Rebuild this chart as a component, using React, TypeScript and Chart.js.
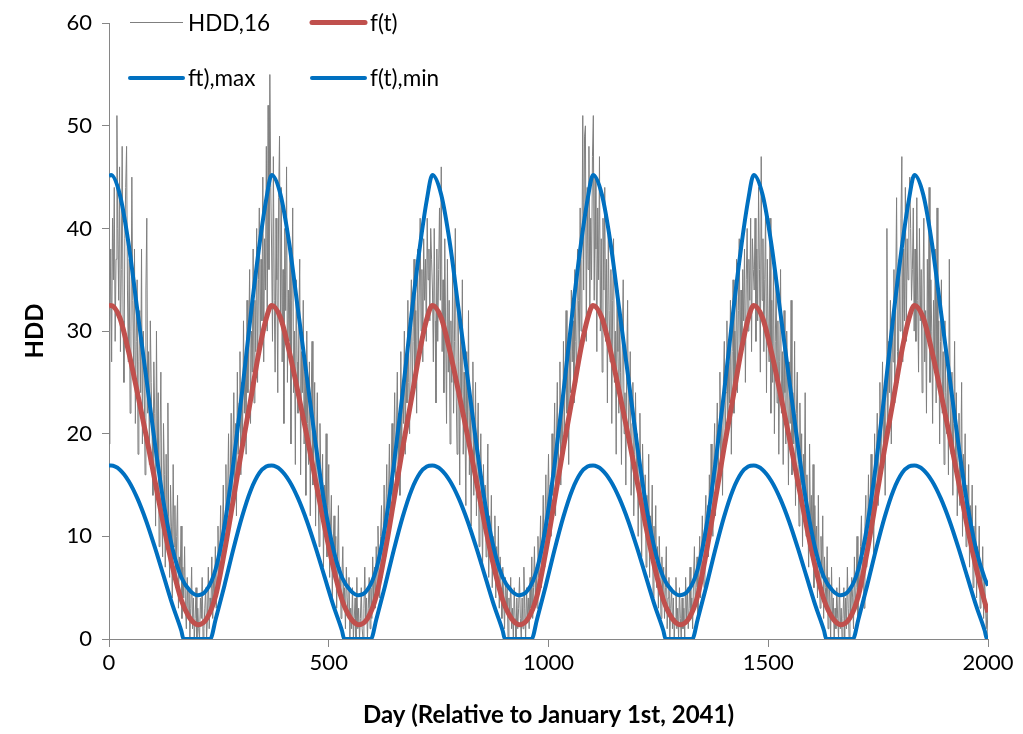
import React, { useEffect, useRef } from "react";
import { Chart, registerables } from "chart.js";

Chart.register(...registerables);

// ---------- data ----------
const xTickValues = [0, 500, 1000, 1500, 2000];
const yTickValues = [0, 10, 20, 30, 40, 50, 60];

const seriesLabels = ["HDD,16", "f(t)", "ft),max", "f(t),min"];

// daily HDD, read every 2 days
const hddStepDays = 2;
const hddSeg1 = [
  19,30,38,27,41,35,44,29,37,51, 40,33,46,28,36,48,31,25,39,44, 48,34,27,37,22,30,45,33,26,38,
  21,29,35,18,27,32,24,38,19,30, 26,16,34,41,22,28,17,31,25,20, 14,27,22,11,30,18,24,9,19,26,
  13,8,21,16,7,18,12,23,10,6, 15,11,4,17,9,13,5,10,14,3, 8,6,11,2,7,4,9,3,1,6,
  2,5,0,3,7,1,4,0,2,5, 0,3,1,0,4,2,6,0,1,3, 5,0,2,7,1,4,3,8,2,6,
  4,9,3,7,11,5,8,13,6,10, 15,8,12,17,9,14,20,11,16,22, 13,19,24,15,21,12,26,18,23,28,
  16,25,20,31,22,27,18,33,24,29, 36,21,30,26,38,23,33,28,40,25, 35,42,29,37,31,45,27,39,34,48,
  30,52,36,55,44,
];
const hddSeg2 = [
  38,29,47,33,26,41,35,24,43,49, 31,44,27,36,21,40,32,46,25,34, 29,38,19,33,42,24,30,17,35,27,
  22,31,37,16,28,24,33,19,26,14, 30,21,17,27,12,23,29,15,20,25, 11,19,24,14,9,21,16,12,18,7,
  15,10,20,8,13,17,6,11,14,4, 9,12,6,10,3,8,13,5,7,2, 6,9,3,5,1,7,4,2,6,0,
  3,1,5,0,2,4,0,6,1,3, 0,2,5,1,0,3,7,2,4,0, 3,6,1,5,2,8,4,7,3,9,
  5,11,7,4,10,13,6,9,15,8, 12,17,10,14,19,11,16,21,13,18, 24,15,20,26,17,22,14,28,19,25,
  21,30,18,27,23,33,25,20,31,35, 24,29,37,26,32,22,38,28,34,41, 30,36,27,39,33,37,29,41,35,38,
  31,40,37,
];
const hddSeg3 = [
  34,27,40,31,23,38,29,36,42,33, 46,28,35,24,39,30,21,37,26,33, 19,31,25,36,22,29,40,24,18,32,
  27,15,30,23,35,18,26,21,13,28, 20,32,16,24,11,22,27,14,19,25, 12,18,23,9,16,20,13,7,17,11,
  15,8,13,19,6,12,9,14,5,10, 7,12,4,9,6,11,3,8,5,2, 7,4,1,6,3,5,0,4,2,6,
  1,3,0,5,2,0,4,1,3,6, 2,0,4,1,7,3,0,5,2,4, 1,6,3,8,2,5,9,4,7,3,
  10,6,8,12,5,9,14,7,11,16, 9,13,18,11,15,10,20,14,17,23, 12,19,25,16,21,27,15,23,18,29,
  20,26,32,22,28,17,30,24,34,27, 31,23,36,29,25,38,33,27,42,30, 37,51,34,49,50,29,44,36,48,32,
  41,35,47,
];
const hddSeg4 = [
  51,33,45,38,28,42,35,47,30,39, 26,41,34,44,29,37,23,40,32,27, 36,21,33,39,25,30,18,34,28,22,
  31,26,17,29,35,20,24,15,27,33, 19,23,28,14,21,25,12,18,24,16, 20,10,17,22,13,8,19,15,11,16,
  7,14,10,18,6,12,9,15,4,11, 8,13,5,9,3,10,6,2,8,4, 7,2,5,9,1,4,6,0,3,5,
  1,4,0,2,6,1,3,0,5,2, 0,4,1,3,0,6,2,5,1,3, 7,2,4,1,6,9,3,5,8,2,
  6,10,4,8,12,7,5,11,14,9, 13,8,16,11,19,14,10,17,21,12, 18,23,15,20,26,17,22,14,25,29,
  19,24,31,21,27,23,33,18,28,35, 22,30,26,37,24,32,39,27,34,29, 36,31,38,25,35,40,30,37,33,41,
  28,39,36,
];
const hddSeg5 = [
  34,41,29,38,31,44,36,26,47,33, 39,28,35,42,24,37,30,27,41,22, 33,25,38,20,29,35,23,31,18,27,
  36,22,28,17,32,24,19,30,26,15, 27,21,33,16,24,19,29,13,22,26, 17,11,23,15,20,9,18,14,24,10,
  16,12,7,19,11,14,8,17,5,13, 9,11,4,14,7,3,10,6,12,2, 8,5,3,9,1,6,4,0,7,2,
  4,0,3,1,5,2,0,6,1,3, 0,2,5,0,4,1,7,3,0,5, 2,6,4,1,8,3,5,10,2,7,
  4,9,12,6,8,3,11,14,7,10, 16,9,13,18,11,15,8,20,14,17, 22,13,19,25,16,21,27,18,23,14,
  26,40,20,29,24,33,19,31,27,36, 23,34,43,28,25,37,30,41,47,27, 38,31,44,29,39,35,42,45,40,33,
  36,42,30,
];
const hddSeg6 = [
  38,29,43,33,26,40,31,36,24,34, 41,27,32,22,37,29,44,25,35,30, 21,33,27,38,23,42,26,31,19,29,
  35,22,28,17,31,24,20,27,16,37, 23,18,26,14,21,29,16,24,12,19, 22,13,17,25,10,18,14,20,9,15,
  12,17,7,13,10,15,5,11,8,13, 4,9,6,11,3,7,5,9,2,6, 4,1,3,0,
];

// smooth curves (day, value)
const curveDays = [
  0, 4.6, 24.6, 44.6, 64.6, 84.6, 104.6, 124.6, 144.6, 164.6, 184.6, 202.6, 222.6, 242.6, 262.6, 282.6, 302.6, 322.6, 342.6, 357.6,
  370.2, 390.2, 410.2, 430.2, 450.2, 470.2, 490.2, 510.2, 530.2, 550.2, 568.2, 588.2, 608.2, 628.2, 648.2, 668.2, 688.2, 708.2, 723.2,
  735.8, 755.8, 775.8, 795.8, 815.8, 835.8, 855.8, 875.8, 895.8, 915.8, 933.8, 953.8, 973.8, 993.8, 1013.8, 1033.8, 1053.8, 1073.8, 1088.8,
  1101.4, 1121.4, 1141.4, 1161.4, 1181.4, 1201.4, 1221.4, 1241.4, 1261.4, 1281.4, 1299.4, 1319.4, 1339.4, 1359.4, 1379.4, 1399.4, 1419.4, 1439.4, 1454.4,
  1467, 1487, 1507, 1527, 1547, 1567, 1587, 1607, 1627, 1647, 1665, 1685, 1705, 1725, 1745, 1765, 1785, 1805, 1820,
  1832.6, 1852.6, 1872.6, 1892.6, 1912.6, 1932.6, 1952.6, 1972.6, 1992.6, 2000,
];
const fValues = [
  32.45, 32.5, 31.3, 28.0, 24.0, 19.8, 15.4, 11.0, 7.0, 3.8, 2.0, 1.4, 2.0, 4.2, 8.5, 13.5, 18.6, 23.4, 28.3, 31.2,
  32.5, 31.3, 28.0, 24.0, 19.8, 15.4, 11.0, 7.0, 3.8, 2.0, 1.4, 2.0, 4.2, 8.5, 13.5, 18.6, 23.4, 28.3, 31.2,
  32.5, 31.3, 28.0, 24.0, 19.8, 15.4, 11.0, 7.0, 3.8, 2.0, 1.4, 2.0, 4.2, 8.5, 13.5, 18.6, 23.4, 28.3, 31.2,
  32.5, 31.3, 28.0, 24.0, 19.8, 15.4, 11.0, 7.0, 3.8, 2.0, 1.4, 2.0, 4.2, 8.5, 13.5, 18.6, 23.4, 28.3, 31.2,
  32.5, 31.3, 28.0, 24.0, 19.8, 15.4, 11.0, 7.0, 3.8, 2.0, 1.4, 2.0, 4.2, 8.5, 13.5, 18.6, 23.4, 28.3, 31.2,
  32.5, 31.3, 28.0, 24.0, 19.8, 15.4, 11.0, 7.0, 3.6, 2.6,
];
const fMaxValues = [
  45.1, 45.2, 43.3, 38.5, 32.0, 25.5, 19.0, 13.2, 8.8, 6.0, 4.7, 4.26, 4.8, 6.8, 11.0, 17.0, 24.0, 31.6, 38.5, 42.8,
  45.2, 43.3, 38.5, 32.0, 25.5, 19.0, 13.2, 8.8, 6.0, 4.7, 4.26, 4.8, 6.8, 11.0, 17.0, 24.0, 31.6, 38.5, 42.8,
  45.2, 43.3, 38.5, 32.0, 25.5, 19.0, 13.2, 8.8, 6.0, 4.7, 4.26, 4.8, 6.8, 11.0, 17.0, 24.0, 31.6, 38.5, 42.8,
  45.2, 43.3, 38.5, 32.0, 25.5, 19.0, 13.2, 8.8, 6.0, 4.7, 4.26, 4.8, 6.8, 11.0, 17.0, 24.0, 31.6, 38.5, 42.8,
  45.2, 43.3, 38.5, 32.0, 25.5, 19.0, 13.2, 8.8, 6.0, 4.7, 4.26, 4.8, 6.8, 11.0, 17.0, 24.0, 31.6, 38.5, 42.8,
  45.2, 43.3, 38.5, 32.0, 25.5, 19.0, 13.2, 8.8, 5.9, 5.2,
];
const fMinDays = [
  0, 4.6, 24.6, 44.6, 64.6, 84.6, 104.6, 124.6, 144.6, 164.6, 169.6, 202.6, 230.3, 242.6, 262.6, 282.6, 302.6, 322.6, 342.6, 357.6,
  370.2, 390.2, 410.2, 430.2, 450.2, 470.2, 490.2, 510.2, 530.2, 535.2, 568.2, 595.9, 608.2, 628.2, 648.2, 668.2, 688.2, 708.2, 723.2,
  735.8, 755.8, 775.8, 795.8, 815.8, 835.8, 855.8, 875.8, 895.8, 900.8, 933.8, 961.5, 973.8, 993.8, 1013.8, 1033.8, 1053.8, 1073.8, 1088.8,
  1101.4, 1121.4, 1141.4, 1161.4, 1181.4, 1201.4, 1221.4, 1241.4, 1261.4, 1266.4, 1299.4, 1327.1, 1339.4, 1359.4, 1379.4, 1399.4, 1419.4, 1439.4, 1454.4,
  1467, 1487, 1507, 1527, 1547, 1567, 1587, 1607, 1627, 1632, 1665, 1692.7, 1705, 1725, 1745, 1765, 1785, 1805, 1820,
  1832.6, 1852.6, 1872.6, 1892.6, 1912.6, 1932.6, 1952.6, 1972.6, 1992.6, 1997.6, 2000,
];
const fMinValues = [
  16.9, 16.9, 16.5, 15.4, 13.7, 11.5, 8.9, 6.1, 3.3, 0.8, 0, 0, 0, 1.9, 5.2, 8.7, 11.9, 14.5, 16.2, 16.8,
  16.9, 16.5, 15.4, 13.7, 11.5, 8.9, 6.1, 3.3, 0.8, 0, 0, 0, 1.9, 5.2, 8.7, 11.9, 14.5, 16.2, 16.8,
  16.9, 16.5, 15.4, 13.7, 11.5, 8.9, 6.1, 3.3, 0.8, 0, 0, 0, 1.9, 5.2, 8.7, 11.9, 14.5, 16.2, 16.8,
  16.9, 16.5, 15.4, 13.7, 11.5, 8.9, 6.1, 3.3, 0.8, 0, 0, 0, 1.9, 5.2, 8.7, 11.9, 14.5, 16.2, 16.8,
  16.9, 16.5, 15.4, 13.7, 11.5, 8.9, 6.1, 3.3, 0.8, 0, 0, 0, 1.9, 5.2, 8.7, 11.9, 14.5, 16.2, 16.8,
  16.9, 16.5, 15.4, 13.7, 11.5, 8.9, 6.1, 3.3, 0.8, 0, 0,
];

// ---------- styling ----------
const FONT = "Lato, 'Open Sans', sans-serif";
const AXIS_COLOR = "#868686";
const GRAY = "#7F7F7F";
const RED = "#C0504D";
const BLUE = "#0070C0";

const legendItems = [
  { label: seriesLabels[0], color: GRAY, width: 1, x: 130, y: 22.5 },
  { label: seriesLabels[1], color: RED, width: 5, x: 312, y: 22.5 },
  { label: seriesLabels[2], color: BLUE, width: 4, x: 130, y: 78 },
  { label: seriesLabels[3], color: BLUE, width: 4, x: 312, y: 78 },
];

const legendPlugin = {
  id: "insideLegend",
  afterDatasetsDraw(chart: any) {
    const ctx = chart.ctx;
    ctx.save();
    legendItems.forEach((it) => {
      ctx.beginPath();
      ctx.strokeStyle = it.color;
      ctx.lineWidth = it.width;
      ctx.lineCap = it.width > 1 ? "round" : "butt";
      ctx.moveTo(it.x, it.y);
      ctx.lineTo(it.x + 53, it.y);
      ctx.stroke();
      ctx.fillStyle = "#000";
      ctx.font = `22.5px ${FONT}`;
      ctx.textBaseline = "middle";
      ctx.textAlign = "left";
      ctx.fillText(it.label, it.x + 58, it.y + 1);
    });
    ctx.restore();
  },
};

export default function App() {
  const ref = useRef<HTMLCanvasElement | null>(null);

  useEffect(() => {
    if (!ref.current) return;
    const hddAll = [...hddSeg1, ...hddSeg2, ...hddSeg3, ...hddSeg4, ...hddSeg5, ...hddSeg6];
    const hddPoints = hddAll.map((v, i) => ({ x: i * hddStepDays, y: v }));
    const fPoints = curveDays.map((d, i) => ({ x: d, y: fValues[i] }));
    const maxPoints = curveDays.map((d, i) => ({ x: d, y: fMaxValues[i] }));
    const minPoints = fMinDays.map((d, i) => ({ x: d, y: fMinValues[i] }));

    const chart = new Chart(ref.current, {
      type: "line",
      data: {
        datasets: [
          { label: seriesLabels[0], data: hddPoints, borderColor: GRAY, borderWidth: 1, pointRadius: 0, order: 4, tension: 0 },
          { label: seriesLabels[1], data: fPoints, borderColor: RED, borderWidth: 5, pointRadius: 0, order: 3, cubicInterpolationMode: "monotone" },
          { label: seriesLabels[2], data: maxPoints, borderColor: BLUE, borderWidth: 4, pointRadius: 0, order: 2, cubicInterpolationMode: "monotone" },
          { label: seriesLabels[3], data: minPoints, borderColor: BLUE, borderWidth: 4, pointRadius: 0, order: 1, cubicInterpolationMode: "monotone" },
        ],
      },
      options: {
        responsive: false,
        animation: false,
        events: [],
        layout: { padding: { top: 20, right: 35, left: 0, bottom: 0 } },
        plugins: { legend: { display: false }, tooltip: { enabled: false } },
        scales: {
          x: {
            type: "linear",
            min: 0,
            max: 2000,
            afterBuildTicks: (scale: any) => {
              scale.ticks = xTickValues.map((v) => ({ value: v }));
            },
            afterFit: (scale: any) => {
              scale.height = 95;
            },
            grid: { drawOnChartArea: false, drawTicks: true, tickLength: 8, color: AXIS_COLOR },
            border: { display: true, color: AXIS_COLOR, width: 1 },
            ticks: {
              color: "#000",
              font: { family: FONT, size: 22 },
              padding: 3,
              maxRotation: 0,
              callback: (v: any) => String(v),
            },
            title: {
              display: true,
              text: "Day (Relative to January 1st, 2041)",
              color: "#000",
              font: { family: FONT, size: 24, weight: "bold" },
              padding: { top: 0, bottom: 4 },
            },
          },
          y: {
            type: "linear",
            min: 0,
            max: 60,
            afterBuildTicks: (scale: any) => {
              scale.ticks = yTickValues.map((v) => ({ value: v }));
            },
            afterFit: (scale: any) => {
              scale.width = 109;
            },
            grid: { drawOnChartArea: false, drawTicks: true, tickLength: 7, color: AXIS_COLOR },
            border: { display: true, color: AXIS_COLOR, width: 1 },
            ticks: { color: "#000", font: { family: FONT, size: 22 }, padding: 10, callback: (v: any) => String(v) },
            title: {
              display: true,
              text: "HDD",
              color: "#000",
              font: { family: FONT, size: 24, weight: "bold" },
              padding: { top: 21, bottom: 0 },
            },
          },
        },
      },
      plugins: [legendPlugin],
    } as any);

    return () => chart.destroy();
  }, []);

  return (
    <div style={{ position: "absolute", left: 0, top: 0, width: 1023, height: 734, background: "#fff" }}>
      <canvas ref={ref} width={1023} height={734} style={{ display: "block" }} />
    </div>
  );
}
